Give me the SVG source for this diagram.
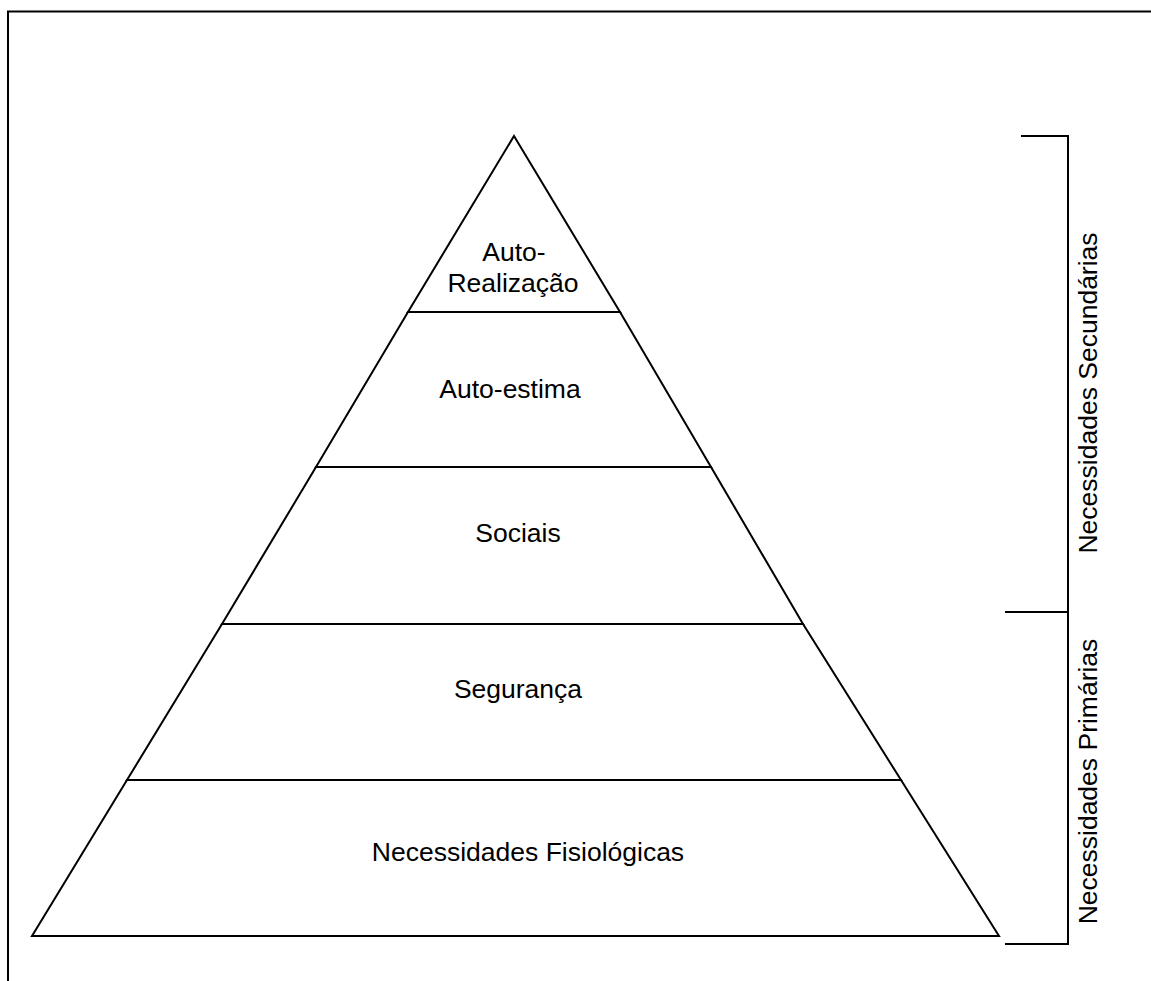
<svg xmlns="http://www.w3.org/2000/svg" width="1151" height="981" viewBox="0 0 1151 981">
<style>
.ln{fill:none;stroke:#000;stroke-width:2;stroke-linejoin:miter}
.lvl{fill:#fff;stroke:#000;stroke-width:2;stroke-linejoin:miter}
.t{font-family:"Liberation Sans",Arial,sans-serif;font-size:26.5px;fill:#000;text-anchor:middle}
</style>
<rect width="1151" height="981" fill="#fff"/>
<g id="frame">
<path class="ln" d="M8 981 V11.5 H1151"/>
</g>
<g id="level-autorealizacao">
<polygon class="lvl" points="514,136 620,312 408,312"/>
<text class="t" x="514" y="261">Auto-</text>
<text class="t" x="513" y="291.5">Realização</text>
</g>
<g id="level-autoestima">
<polygon class="lvl" points="408,312 620,312 711,467 316,467"/>
<text class="t" x="510" y="398">Auto-estima</text>
</g>
<g id="level-sociais">
<polygon class="lvl" points="316,467 711,467 803,624 222,624"/>
<text class="t" x="518" y="541.5">Sociais</text>
</g>
<g id="level-seguranca">
<polygon class="lvl" points="222,624 803,624 901,780 127,780"/>
<text class="t" x="518" y="698">Segurança</text>
</g>
<g id="level-fisiologicas">
<polygon class="lvl" points="127,780 901,780 999,936 32,936"/>
<text class="t" x="528" y="861">Necessidades Fisiológicas</text>
</g>
<g id="connectors">
<path class="ln" d="M1021 136 H1068 V944 H1005 M1005 612 H1068"/>
</g>
<g id="label-secundarias">
<text class="t" transform="translate(1097,393) rotate(-90)">Necessidades Secundárias</text>
</g>
<g id="label-primarias">
<text class="t" transform="translate(1097,781.5) rotate(-90)">Necessidades Primárias</text>
</g>
</svg>
